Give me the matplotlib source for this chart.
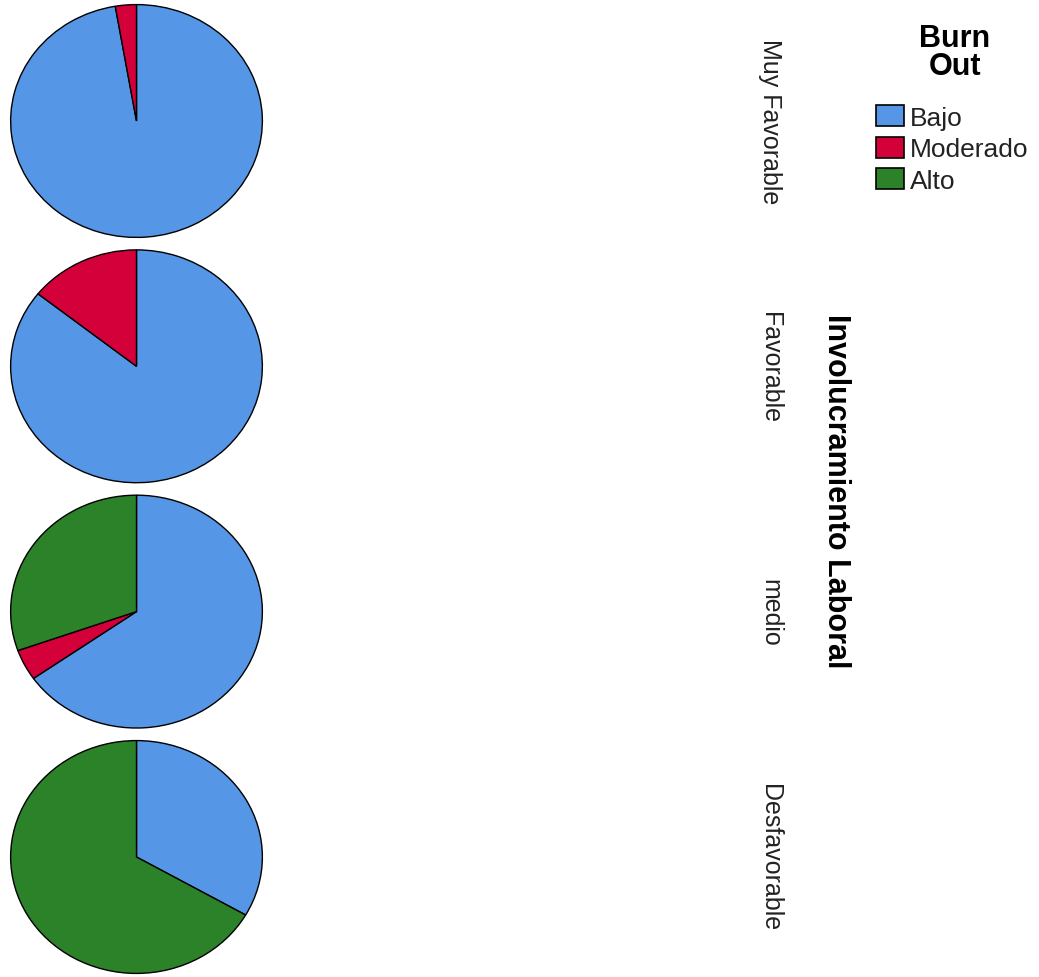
import matplotlib
matplotlib.use("Agg")
import matplotlib.pyplot as plt
from matplotlib.patches import Patch

plt.rcParams['font.family'] = ['Liberation Sans', 'DejaVu Sans']

categories = ["Muy Favorable", "Favorable", "medio", "Desfavorable"]
series_names = ["Bajo", "Moderado", "Alto"]
bajo = [97.3, 85.7, 65.2, 33.3]
moderado = [2.7, 14.3, 4.3, 0.0]
alto = [0.0, 0.0, 30.4, 66.7]
colors = ["#5596E6", "#D3003A", "#2B8229"]

W, H = 1039, 978
fig = plt.figure(figsize=(W / 100, H / 100), dpi=100)

tops = [5, 250.3, 495.6, 741]
pie_w, pie_h = 253, 234
label_x = 770

for i, cat in enumerate(categories):
    top = tops[i]
    ax = fig.add_axes([10 / W, (H - top - pie_h) / H, pie_w / W, pie_h / H])
    vals = [bajo[i], moderado[i], alto[i]]
    v = [x for x in vals if x > 0]
    c = [colors[k] for k, x in enumerate(vals) if x > 0]
    ax.pie(v, colors=c, startangle=90, counterclock=False, radius=1,
           wedgeprops=dict(edgecolor="black", linewidth=1.0))
    ax.set_aspect('auto')
    ax.set_xlim(-1.005, 1.005)
    ax.set_ylim(-1.005, 1.005)
    ax.axis('off')
    fig.text(label_x / W, 1 - (top + pie_h / 2) / H, cat, rotation=270,
             ha='center', va='center', fontsize=18, color='#222222')

fig.text(836 / W, 1 - 491 / H, "Involucramiento Laboral", rotation=270,
         ha='center', va='center', fontsize=22, fontweight='bold')

fig.text(955 / W, 1 - 53 / H, "Burn\nOut", ha='center', va='center',
         fontsize=22, fontweight='bold', linespacing=0.95)

handles = [Patch(facecolor=colors[k], edgecolor='black', linewidth=1.2)
           for k in range(3)]
leg = fig.legend(handles, series_names, loc='upper left',
                 bbox_to_anchor=(876 / W, 1 - 106 / H), frameon=False,
                 fontsize=19, handlelength=1.06, handleheight=0.85,
                 handletextpad=0.22, labelspacing=0.26, borderpad=0,
                 borderaxespad=0)
for t in leg.get_texts():
    t.set_color('#222222')

fig.savefig("out.png", dpi=100)
